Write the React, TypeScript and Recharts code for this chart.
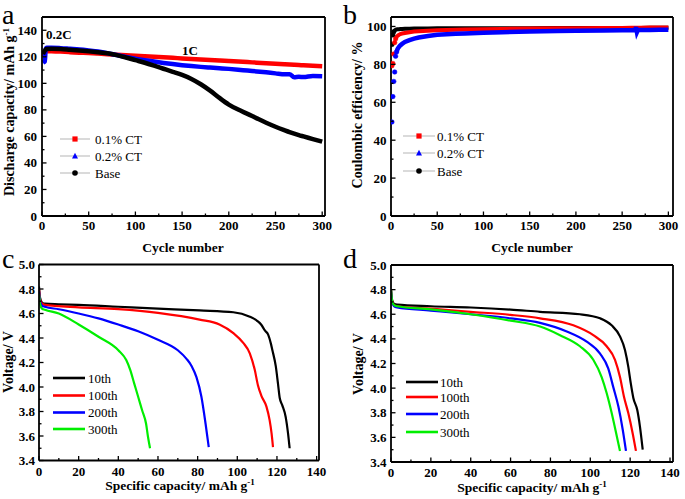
import React from 'react';
import { LineChart, Line, XAxis, YAxis, Legend } from 'recharts';

const FONT = '"Liberation Serif", "Times New Roman", Times, serif';

// ---------- Panel a: discharge capacity vs cycle number ----------
const cyclesA = [1, 2, 3, 4, 5, 10, 20, 30, 40, 50, 60, 70, 80, 90, 100, 110, 120, 130, 140, 150, 160, 170, 180, 190, 200, 210, 220, 230, 240, 250, 260, 265, 270, 275, 280, 290, 300];
const capCT01 = [119.5, 120, 123, 124, 124.3, 124.2, 123.9, 123.5, 123.1, 122.8, 122.4, 122, 121.6, 121.2, 120.8, 120.4, 120, 119.6, 119.2, 118.8, 118.4, 118, 117.6, 117.2, 116.8, 116.4, 116, 115.6, 115.2, 114.8, 114.4, 114.2, 114, 113.8, 113.6, 113.2, 112.8];
const capCT02 = [115.5, 116, 116.5, 126, 126.8, 126.8, 126.5, 126, 125.5, 124.8, 124, 122.8, 121.3, 119.9, 118.6, 117.5, 116.4, 115.4, 114.5, 113.7, 113, 112.4, 111.9, 111.4, 110.9, 110.3, 109.6, 109, 108.3, 107.5, 106.8, 106.9, 104.6, 104.9, 104.7, 105.5, 105.3];
const capBase = [122, 123.5, 124.5, 125.5, 125.8, 126, 125.8, 125.3, 124.8, 124.2, 123.5, 122.7, 121.3, 119.5, 117.5, 115.5, 113.3, 111, 108.7, 106.3, 103.3, 99.3, 94.5, 89, 84, 80.2, 77, 73.6, 70.3, 67.3, 64.6, 63.3, 62.1, 61, 60, 58, 56];
const seriesNamesA = ['0.1% CT', '0.2% CT', 'Base'];

// ---------- Panel b: coulombic efficiency vs cycle number ----------
const cyclesB = [1, 2, 3, 4, 5, 6, 7, 8, 9, 10, 12, 15, 20, 25, 30, 40, 50, 60, 70, 80, 100, 120, 150, 180, 200, 230, 250, 260, 264, 265, 266, 267, 268, 270, 280, 290, 300];
const ceBase = [90.5, 95.5, 97.2, 97.9, 98.2, 98.4, 98.5, 98.6, 98.6, 98.7, 98.7, 98.8, 98.8, 98.9, 98.9, 98.9, 99, 99, 99, 99, 99.1, 99.1, 99.1, 99.2, 99.2, 99.2, 99.2, 99.2, 99.2, 99.2, 99.2, 99.2, 99.2, 99.2, 99.3, 99.3, 99.3];
const ceCT01 = [79.3, 80.5, 85.5, 91.5, 93.5, 94.5, 95, 95.4, 95.7, 96, 96.3, 96.6, 97, 97.3, 97.5, 97.8, 98, 98.2, 98.3, 98.4, 98.6, 98.7, 98.9, 99, 99.1, 99.2, 99.2, 99.3, 99.3, 99.3, 99.3, 99.3, 99.3, 99.3, 99.4, 99.4, 99.4];
const ceCT02 = [49.6, 63, 71, 76, 84.3, 86.5, 88, 88.8, 89.5, 90, 90.8, 91.8, 92.8, 93.6, 94.2, 95, 95.6, 95.9, 96.1, 96.3, 96.7, 97, 97.3, 97.6, 97.7, 97.9, 98, 98, 98.1, 99.6, 97, 98.1, 98.1, 98.2, 98.2, 98.3, 98.3];

// ---------- Panel c: voltage profiles (Base) ----------
const cCap10 = [0, 0.5, 1.5, 3, 10, 20, 40, 60, 81, 98, 106, 110, 112, 114, 115.5, 117, 117.7, 119.4, 120.5, 121.4, 122.7, 124.4, 125.6, 126.4];
const cV10 = [4.82, 4.73, 4.69, 4.68, 4.675, 4.67, 4.655, 4.64, 4.625, 4.61, 4.576, 4.54, 4.51, 4.46, 4.43, 4.35, 4.3, 4.17, 4.03, 3.91, 3.85, 3.755, 3.62, 3.5];
const cCap100 = [0, 0.5, 1.5, 3, 10, 20, 40, 60, 81, 91, 98, 103, 106.3, 108.8, 110.4, 112.1, 114.7, 116.3, 117.3, 118];
const cV100 = [4.8, 4.72, 4.68, 4.67, 4.66, 4.65, 4.635, 4.605, 4.55, 4.51, 4.44, 4.36, 4.275, 4.14, 4.015, 3.93, 3.84, 3.73, 3.62, 3.51];
const cCap200 = [0, 0.5, 1.5, 3, 10, 20, 30, 40, 50, 60, 70, 74.4, 77, 79.4, 81.9, 84, 85.6];
const cV200 = [4.78, 4.7, 4.665, 4.655, 4.635, 4.6, 4.56, 4.51, 4.455, 4.385, 4.3, 4.23, 4.17, 4.08, 3.92, 3.7, 3.51];
const cCap300 = [0, 0.5, 1.5, 3, 10, 20, 30, 40, 44, 46, 48, 50, 52, 54, 55, 56];
const cV300 = [4.76, 4.68, 4.64, 4.63, 4.6, 4.51, 4.41, 4.3, 4.22, 4.14, 4.03, 3.92, 3.81, 3.7, 3.59, 3.5];

// ---------- Panel d: voltage profiles (CT) ----------
const dCap10 = [0, 0.5, 1.5, 3, 20, 40, 60, 74.8, 94.8, 104.9, 110.7, 114.9, 117.4, 119.1, 120.3, 121.6, 123.6, 124.9, 126.3];
const dV10 = [4.8, 4.72, 4.685, 4.678, 4.665, 4.655, 4.638, 4.62, 4.6, 4.567, 4.51, 4.42, 4.31, 4.17, 4.04, 3.92, 3.82, 3.69, 3.5];
const dCap100 = [0, 0.5, 1.5, 3, 20, 40, 60, 74.8, 91.5, 101.5, 108.2, 112.4, 114.9, 116.9, 119.1, 121.3, 122.9];
const dV100 = [4.8, 4.71, 4.675, 4.665, 4.645, 4.62, 4.595, 4.567, 4.51, 4.43, 4.34, 4.23, 4.09, 3.93, 3.795, 3.63, 3.49];
const dCap200 = [0, 0.5, 1.5, 3, 20, 40, 60, 74.8, 88.2, 98.2, 104.9, 109, 111.5, 114.1, 116.3, 117.9];
const dV200 = [4.79, 4.7, 4.665, 4.655, 4.63, 4.6, 4.567, 4.53, 4.46, 4.377, 4.28, 4.16, 4.01, 3.85, 3.66, 3.49];
const dCap300 = [0, 0.5, 1.5, 3, 20, 40, 60, 74.8, 84.8, 94.8, 101.5, 105.7, 108.2, 110.7, 113.3, 114.9];
const dV300 = [4.8, 4.71, 4.675, 4.665, 4.64, 4.6, 4.548, 4.5, 4.43, 4.34, 4.23, 4.09, 3.96, 3.8, 3.61, 3.49];
const cycleLabels = ['10th', '100th', '200th', '300th'];

// ---------- ticks ----------
const cycleTicks = [0, 50, 100, 150, 200, 250, 300];
const cycleMinor = [25, 75, 125, 175, 225, 275];
const capTicksA = [0, 20, 40, 60, 80, 100, 120, 140];
const capMinorA = [10, 30, 50, 70, 90, 110, 130];
const ceTicks = [0, 20, 40, 60, 80, 100];
const ceMinor = [10, 30, 50, 70, 90];
const specTicks = [0, 20, 40, 60, 80, 100, 120, 140];
const specMinor = [10, 30, 50, 70, 90, 110, 130];
const voltTicks = [3.4, 3.6, 3.8, 4.0, 4.2, 4.4, 4.6, 4.8, 5.0];
const voltMinor = [3.5, 3.7, 3.9, 4.1, 4.3, 4.5, 4.7, 4.9];

const RED = '#ff0000';
const BLUE = '#0000ff';
const BLACK = '#000000';
const GREEN = '#00ee00';
const curveColors = [BLACK, RED, BLUE, GREEN];

const pairs = (xs: number[], ys: number[]) => xs.map((c, i) => ({ c, v: ys[i] }));

const tickFont: React.CSSProperties = { fontFamily: FONT, fontSize: 13, fontWeight: 700 };
const axisLineStyle = { stroke: '#000', strokeWidth: 1.8 };

const isIn = (arr: number[], v: number) => arr.some((m) => Math.abs(m - v) < 1e-9);

function makeTick(orient: 'bottom' | 'left', majors: number[], margin: number, fmt: (v: number) => string) {
  return (props: any) => {
    const { x, y, payload } = props;
    const v = payload.value as number;
    const major = isIn(majors, v);
    const len = major ? 4.5 : 2.5;
    if (orient === 'bottom') {
      const ay = y - margin;
      return (
        <g>
          <line x1={x} x2={x} y1={ay} y2={ay - len} stroke="#000" strokeWidth={1.3} />
          {major && (
            <text x={x} y={ay + margin} dy="0.71em" textAnchor="middle" fill="#000" style={tickFont}>{fmt(v)}</text>
          )}
        </g>
      );
    }
    const ax = x + margin;
    return (
      <g>
        <line x1={ax} x2={ax + len} y1={y} y2={y} stroke="#000" strokeWidth={1.3} />
        {major && (
          <text x={ax - margin} y={y} dy="0.35em" textAnchor="end" fill="#000" style={tickFont}>{fmt(v)}</text>
        )}
      </g>
    );
  };
}

function axes(
  xDomain: number[], xTicks: number[], xMinor: number[],
  yDomain: number[], yTicks: number[], yMinor: number[],
  xFmt: (v: number) => string, yFmt: (v: number) => string, xMargin: number, yMargin: number
) {
  return [
    <XAxis key="x" xAxisId={0} dataKey="c" type="number" domain={xDomain} ticks={[...xTicks, ...xMinor]} interval={0}
      height={1} tickSize={0} tickMargin={xMargin} tick={makeTick('bottom', xTicks, xMargin, xFmt)} tickLine={false}
      axisLine={axisLineStyle} allowDataOverflow />,
    <XAxis key="xt" xAxisId="top" orientation="top" dataKey="c" type="number" domain={xDomain}
      height={1} tick={false} tickLine={false} axisLine={axisLineStyle} allowDataOverflow />,
    <YAxis key="y" yAxisId={0} type="number" domain={yDomain} ticks={[...yTicks, ...yMinor]} interval={0}
      width={1} tickSize={0} tickMargin={yMargin} tick={makeTick('left', yTicks, yMargin, yFmt)} tickLine={false}
      axisLine={axisLineStyle} allowDataOverflow />,
    <YAxis key="yr" yAxisId="right" orientation="right" type="number" domain={yDomain}
      width={1} tick={false} tickLine={false} axisLine={axisLineStyle} allowDataOverflow />,
  ];
}

type Shape = 'square' | 'triangle' | 'circle';
const shapes: Shape[] = ['square', 'triangle', 'circle'];

function marker(shape: Shape, x: number, y: number, color: string) {
  if (shape === 'square') return <rect x={x - 2.6} y={y - 2.6} width={5.2} height={5.2} fill={color} />;
  if (shape === 'triangle') return <polygon points={`${x},${y - 3.2} ${x - 3},${y + 2.4} ${x + 3},${y + 2.4}`} fill={color} />;
  return <circle cx={x} cy={y} r={2.8} fill={color} />;
}

const legendFont: React.CSSProperties = { fontFamily: FONT, fontSize: 13, fontWeight: 400 };

const markerLegend = (names: string[], colors: string[], x1: number, x2: number, tx: number, ys: number[], w: number, h: number) => () => (
  <svg width={w} height={h} style={{ position: 'absolute', left: 0, top: 0, overflow: 'visible' }}>
    {names.map((n, i) => (
      <g key={n}>
        <line x1={x1} x2={x2} y1={ys[i]} y2={ys[i]} stroke="#b5b5b5" strokeWidth={1} />
        {marker(shapes[i], (x1 + x2) / 2, ys[i], colors[i])}
        <text x={tx} y={ys[i]} dy="0.35em" fill="#000" fontFamily={FONT} style={legendFont}>{n}</text>
      </g>
    ))}
  </svg>
);

const lineLegend = (names: string[], colors: string[], x1: number, x2: number, tx: number, ys: number[], w: number, h: number) => () => (
  <svg width={w} height={h} style={{ position: 'absolute', left: 0, top: 0, overflow: 'visible' }}>
    {names.map((n, i) => (
      <g key={n}>
        <line x1={x1} x2={x2} y1={ys[i]} y2={ys[i]} stroke={colors[i]} strokeWidth={2.6} />
        <text x={tx} y={ys[i]} dy="0.35em" fill="#000" fontFamily={FONT} style={legendFont}>{n}</text>
      </g>
    ))}
  </svg>
);

const titleFont: React.CSSProperties = { fontFamily: FONT, fontSize: 13.5, fontWeight: 700 };
const letterFont: React.CSSProperties = { fontFamily: FONT, fontSize: 28, fontWeight: 400 };

function YTitle({ cx, cy, children }: { cx: number; cy: number; children: React.ReactNode }) {
  return (
    <text x={cx} y={cy} dy="0.35em" transform={`rotate(-90, ${cx}, ${cy})`} textAnchor="middle" fill="#000" style={{ ...titleFont, fontSize: 14 }}>
      {children}
    </text>
  );
}

const legendWrap = (w: number, h: number) => ({ left: 0, top: 0, width: w, height: h, pointerEvents: 'none' as const });

const fmtInt = (v: number) => String(v);
const fmt1 = (v: number) => v.toFixed(1);

const early = (xs: number[], ys: number[], n: number) => pairs(xs, ys).slice(0, n);
const band = (xs: number[], ys: number[], n: number) => pairs(xs, ys).slice(n - 1);

// lower panels are drawn in boxes that start 10px above their frame area
const LOW_TOP = 240;
const S = 10;

export default function App() {
  return (
    <div style={{ position: 'absolute', left: 0, top: 0, width: 685, height: 499, background: '#fff' }}>
      {/* Panel a */}
      <div style={{ position: 'absolute', left: 0, top: 0 }}>
        <LineChart width={340} height={262} margin={{ top: 16, right: 14, bottom: 45, left: 41 }}>
          {axes([0, 303], cycleTicks, cycleMinor, [0, 150], capTicksA, capMinorA, fmtInt, fmtInt, 5, 5)}
          <Line data={pairs(cyclesA, capCT01)} dataKey="v" name={seriesNamesA[0]} type="monotone" stroke={RED} strokeWidth={4.5} dot={false} isAnimationActive={false} />
          <Line data={pairs(cyclesA, capCT02)} dataKey="v" name={seriesNamesA[1]} type="monotone" stroke={BLUE} strokeWidth={4.5} dot={false} isAnimationActive={false} />
          <Line data={pairs(cyclesA, capBase)} dataKey="v" name={seriesNamesA[2]} type="monotone" stroke={BLACK} strokeWidth={4.5} dot={false} isAnimationActive={false} />
          <Legend layout="horizontal" verticalAlign="middle" align="center" wrapperStyle={legendWrap(340, 262)}
            content={markerLegend(seriesNamesA, [RED, BLUE, BLACK], 60, 90, 95, [139, 156, 173], 340, 262)} />
          <text x={2} y={24} fill="#000" style={letterFont}>a</text>
          <text x={46} y={39} fill="#000" style={{ ...titleFont, fontSize: 13 }}>0.2C</text>
          <text x={182} y={55} fill="#000" style={{ ...titleFont, fontSize: 13 }}>1C</text>
          <text x={183} y={252} textAnchor="middle" fill="#000" style={titleFont}>Cycle number</text>
          <YTitle cx={9} cy={112}>
            Discharge capacity/ mAh g<tspan dy={-5} style={{ fontSize: 9 }}>-1</tspan>
          </YTitle>
        </LineChart>
      </div>

      {/* Panel b */}
      <div style={{ position: 'absolute', left: 340, top: 0 }}>
        <LineChart width={345} height={262} margin={{ top: 16, right: 11, bottom: 45, left: 50 }}>
          {axes([0, 305], cycleTicks, cycleMinor, [0, 105], ceTicks, ceMinor, fmtInt, fmtInt, 5, 4.5)}
          <Line data={band(cyclesB, ceBase, 3)} dataKey="v" name="Base-band" legendType="none" type="linear" stroke={BLACK} strokeWidth={4} dot={false} isAnimationActive={false} />
          <Line data={early(cyclesB, ceBase, 3)} dataKey="v" name={seriesNamesA[2]} type="linear" stroke="none" dot={{ r: 2.3, fill: BLACK, stroke: BLACK, strokeWidth: 0.5 }} isAnimationActive={false} />
          <Line data={band(cyclesB, ceCT01, 5)} dataKey="v" name="CT01-band" legendType="none" type="linear" stroke={RED} strokeWidth={4} dot={false} isAnimationActive={false} />
          <Line data={early(cyclesB, ceCT01, 5)} dataKey="v" name={seriesNamesA[0]} type="linear" stroke="none" dot={{ r: 2.3, fill: RED, stroke: RED, strokeWidth: 0.5 }} isAnimationActive={false} />
          <Line data={band(cyclesB, ceCT02, 6)} dataKey="v" name="CT02-band" legendType="none" type="linear" stroke={BLUE} strokeWidth={4.5} dot={false} isAnimationActive={false} />
          <Line data={early(cyclesB, ceCT02, 6)} dataKey="v" name={seriesNamesA[1]} type="linear" stroke="none" dot={{ r: 2.3, fill: BLUE, stroke: BLUE, strokeWidth: 0.5 }} isAnimationActive={false} />
          <Legend layout="horizontal" verticalAlign="middle" align="center" wrapperStyle={legendWrap(345, 262)}
            content={markerLegend(seriesNamesA, [RED, BLUE, BLACK], 63, 95, 97, [136, 153, 171], 345, 262)} />
          <text x={3} y={24} fill="#000" style={letterFont}>b</text>
          <text x={192} y={252} textAnchor="middle" fill="#000" style={titleFont}>Cycle number</text>
          <YTitle cx={17} cy={115}>Coulombic efficiency/ %</YTitle>
        </LineChart>
      </div>

      {/* Panel c */}
      <div style={{ position: 'absolute', left: 0, top: LOW_TOP }}>
        <LineChart width={340} height={259} margin={{ top: 13.5 + S, right: 20, bottom: 37.5, left: 38 }}>
          {axes([0, 141.2], specTicks, specMinor, [3.4, 5.0], voltTicks, voltMinor, fmtInt, fmt1, 6, 4)}
          <Line data={pairs(cCap10, cV10)} dataKey="v" name={cycleLabels[0]} type="monotone" stroke={curveColors[0]} strokeWidth={2.2} dot={false} isAnimationActive={false} />
          <Line data={pairs(cCap100, cV100)} dataKey="v" name={cycleLabels[1]} type="monotone" stroke={curveColors[1]} strokeWidth={2.2} dot={false} isAnimationActive={false} />
          <Line data={pairs(cCap200, cV200)} dataKey="v" name={cycleLabels[2]} type="monotone" stroke={curveColors[2]} strokeWidth={2.2} dot={false} isAnimationActive={false} />
          <Line data={pairs(cCap300, cV300)} dataKey="v" name={cycleLabels[3]} type="monotone" stroke={curveColors[3]} strokeWidth={2.2} dot={false} isAnimationActive={false} />
          <Legend layout="horizontal" verticalAlign="middle" align="center" wrapperStyle={legendWrap(340, 259)}
            content={lineLegend(cycleLabels, curveColors, 53, 85, 88, [128 + S, 145.5 + S, 162.5 + S, 179 + S], 340, 259)} />
          <text x={2} y={18 + S} fill="#000" style={letterFont}>c</text>
          <text x={180} y={240 + S} textAnchor="middle" fill="#000" style={titleFont}>
            Specific capacity/ mAh g<tspan dy={-5} style={{ fontSize: 9 }}>-1</tspan>
          </text>
          <YTitle cx={8} cy={112 + S}>Voltage/ V</YTitle>
        </LineChart>
      </div>

      {/* Panel d */}
      <div style={{ position: 'absolute', left: 340, top: LOW_TOP }}>
        <LineChart width={345} height={259} margin={{ top: 14 + S, right: 11, bottom: 36, left: 50 }}>
          {axes([0, 141.5], specTicks, specMinor, [3.4, 5.0], voltTicks, voltMinor, fmtInt, fmt1, 6, 4.5)}
          <Line data={pairs(dCap10, dV10)} dataKey="v" name={cycleLabels[0]} type="monotone" stroke={curveColors[0]} strokeWidth={2.2} dot={false} isAnimationActive={false} />
          <Line data={pairs(dCap100, dV100)} dataKey="v" name={cycleLabels[1]} type="monotone" stroke={curveColors[1]} strokeWidth={2.2} dot={false} isAnimationActive={false} />
          <Line data={pairs(dCap200, dV200)} dataKey="v" name={cycleLabels[2]} type="monotone" stroke={curveColors[2]} strokeWidth={2.2} dot={false} isAnimationActive={false} />
          <Line data={pairs(dCap300, dV300)} dataKey="v" name={cycleLabels[3]} type="monotone" stroke={curveColors[3]} strokeWidth={2.2} dot={false} isAnimationActive={false} />
          <Legend layout="horizontal" verticalAlign="middle" align="center" wrapperStyle={legendWrap(345, 259)}
            content={lineLegend(cycleLabels, curveColors, 66, 98, 100, [132 + S, 147 + S, 164 + S, 182 + S], 345, 259)} />
          <text x={3} y={18 + S} fill="#000" style={letterFont}>d</text>
          <text x={192} y={242 + S} textAnchor="middle" fill="#000" style={titleFont}>
            Specific capacity/ mAh g<tspan dy={-5} style={{ fontSize: 9 }}>-1</tspan>
          </text>
          <YTitle cx={18} cy={114 + S}>Voltage/ V</YTitle>
        </LineChart>
      </div>
    </div>
  );
}
